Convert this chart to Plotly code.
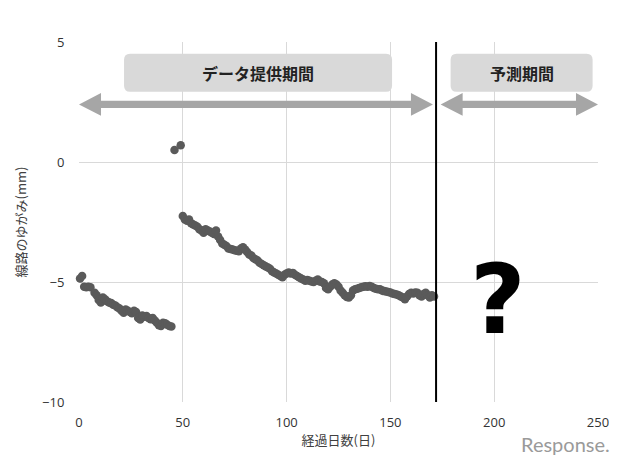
import plotly.graph_objects as go

# ---- data ----
days_a = [0.5, 1.5, 2.5, 3.5, 4.5, 5.5, 7.5, 8.5, 9.5, 10.5, 11.5, 12.5, 13.5, 14.5, 15.5,
          16.5, 17.5, 18.5, 19.5, 20.5, 21.5, 22.5, 23.5, 24.5, 25.5, 26.5, 27.5, 28.5,
          29.5, 30.5, 31.5, 32.5, 33.5, 34.5, 35.5, 36.5, 37.5, 38.5, 39.5, 40.5, 41.5,
          42.5, 43.5, 44.5]
dist_a = [-4.85, -4.75, -5.2, -5.22, -5.2, -5.22, -5.45, -5.55, -5.75, -5.85, -5.65, -5.72,
          -5.8, -5.85, -5.88, -5.95, -5.98, -6.05, -6.1, -6.2, -6.28, -6.15, -6.2, -6.25,
          -6.3, -6.2, -6.25, -6.5, -6.56, -6.4, -6.45, -6.42, -6.5, -6.55, -6.5, -6.6,
          -6.7, -6.8, -6.83, -6.7, -6.72, -6.78, -6.83, -6.85]

days_out = [46, 49]
dist_out = [0.5, 0.7]

days_b = list(range(50, 172))
dist_b = [-2.25, -2.4, -2.45, -2.4, -2.55, -2.6, -2.65, -2.7, -2.8, -2.85,
          -2.95, -2.8, -2.85, -2.9, -2.95, -3.0, -2.85, -3.1, -3.25, -3.4,
          -3.45, -3.5, -3.6, -3.62, -3.65, -3.68, -3.7, -3.72, -3.6, -3.55,
          -3.65, -3.75, -3.85, -3.9, -4.0, -4.05, -4.1, -4.2, -4.25, -4.3,
          -4.35, -4.4, -4.45, -4.55, -4.6, -4.65, -4.7, -4.75, -4.8, -4.7,
          -4.65, -4.6, -4.65, -4.62, -4.7, -4.75, -4.8, -4.85, -4.9, -4.95,
          -4.92, -4.95, -4.98, -5.0, -4.95, -4.9, -4.98, -5.0, -5.05, -5.25,
          -5.3, -5.2, -5.1, -5.05, -5.1, -5.2, -5.35, -5.45, -5.55, -5.62,
          -5.65, -5.55, -5.35, -5.3, -5.28, -5.25, -5.22, -5.2, -5.18, -5.2,
          -5.17, -5.2, -5.25, -5.28, -5.3, -5.3, -5.35, -5.38, -5.4, -5.42,
          -5.44, -5.48, -5.5, -5.52, -5.55, -5.6, -5.65, -5.72, -5.6, -5.5,
          -5.45, -5.48, -5.44, -5.45, -5.55, -5.6, -5.5, -5.45, -5.55, -5.65,
          -5.55, -5.6]

x_ticks = [0, 50, 100, 150, 200, 250]
y_ticks = [-10, -5, 0, 5]
boundary_day = 172
period_labels = ["データ提供期間", "予測期間"]

# ---- figure ----
MARK = dict(color="#5a5a5a", size=8.5)
fig = go.Figure()
fig.add_trace(go.Scatter(x=days_a, y=dist_a, mode="markers", marker=MARK, showlegend=False, cliponaxis=False))
fig.add_trace(go.Scatter(x=days_out, y=dist_out, mode="markers", marker=MARK, showlegend=False))
fig.add_trace(go.Scatter(x=days_b, y=dist_b, mode="markers", marker=MARK, showlegend=False))


def rounded_box(x0, x1, y0, y1, rx, ry):
    return (f"M{x0+rx},{y0} L{x1-rx},{y0} Q{x1},{y0} {x1},{y0+ry} "
            f"L{x1},{y1-ry} Q{x1},{y1} {x1-rx},{y1} L{x0+rx},{y1} "
            f"Q{x0},{y1} {x0},{y1-ry} L{x0},{y0+ry} Q{x0},{y0} {x0+rx},{y0} Z")


def double_arrow(x0, x1, yc, hl, hh, sh):
    return (f"M{x0},{yc} L{x0+hl},{yc+hh} L{x0+hl},{yc+sh} L{x1-hl},{yc+sh} "
            f"L{x1-hl},{yc+hh} L{x1},{yc} L{x1-hl},{yc-hh} L{x1-hl},{yc-sh} "
            f"L{x0+hl},{yc-sh} L{x0+hl},{yc-hh} Z")


shapes = []
# grey label boxes
for (bx0, bx1) in [(21.7, 150.8), (179.0, 247.4)]:
    shapes.append(dict(type="path", xref="x", yref="y",
                       path=rounded_box(bx0, bx1, 2.93, 4.51, 2.9, 0.25),
                       fillcolor="#d9d9d9", line=dict(width=0), layer="above"))
# arrows
for (ax0, ax1) in [(0, 170.5), (174.2, 250)]:
    shapes.append(dict(type="path", xref="x", yref="y",
                       path=double_arrow(ax0, ax1, 2.40, 10.6, 0.47, 0.15),
                       fillcolor="#a6a6a6", line=dict(width=0), layer="above"))
# boundary line
shapes.append(dict(type="line", xref="x", yref="y", x0=boundary_day, x1=boundary_day,
                   y0=-10, y1=5, line=dict(color="#000000", width=2)))

annotations = [
    dict(x=86.3, y=3.72, xref="x", yref="y", text=f"<b>{period_labels[0]}</b>",
         showarrow=False, font=dict(size=16, color="#222222", family="Noto Sans CJK JP")),
    dict(x=213.2, y=3.72, xref="x", yref="y", text=f"<b>{period_labels[1]}</b>",
         showarrow=False, font=dict(size=16, color="#222222", family="Noto Sans CJK JP")),
    dict(x=202, y=-5.75, xref="x", yref="y", text="<b>?</b>", showarrow=False,
         font=dict(size=96, color="#000000", family="DejaVu Sans")),
    dict(x=212, y=0.0, xref="x", yref="paper", xanchor="left", yanchor="top",
         yshift=-28, text="Response.", showarrow=False,
         font=dict(size=20, color="#9a9a9a", family="Lato")),
]

fig.update_layout(
    width=632, height=453,
    margin=dict(l=71, r=42, t=34, b=59, autoexpand=False),
    paper_bgcolor="#ffffff", plot_bgcolor="#ffffff",
    shapes=shapes, annotations=annotations,
    font=dict(family="Noto Sans CJK JP", color="#404040", size=13),
)
fig.update_xaxes(range=[0, 250], tickvals=x_ticks, showgrid=True, gridcolor="#d9d9d9",
                 gridwidth=1, zeroline=False, showline=False, automargin=False,
                 ticks="outside", ticklen=8, tickcolor="rgba(0,0,0,0)",
                 tickfont=dict(size=13, color="#333333", family="Open Sans"),
                 title=dict(text="経過日数(日)", font=dict(size=13, color="#404040"), standoff=6))
fig.update_yaxes(range=[-10, 5], tickvals=y_ticks, showgrid=True, gridcolor="#d9d9d9",
                 gridwidth=1, zeroline=False, showline=False, automargin=False,
                 ticks="outside", ticklen=11, tickcolor="rgba(0,0,0,0)",
                 tickfont=dict(size=13, color="#333333", family="Open Sans"),
                 title=dict(text="線路のゆがみ(mm)", font=dict(size=13, color="#404040"), standoff=12))

fig.write_html("out.html")
